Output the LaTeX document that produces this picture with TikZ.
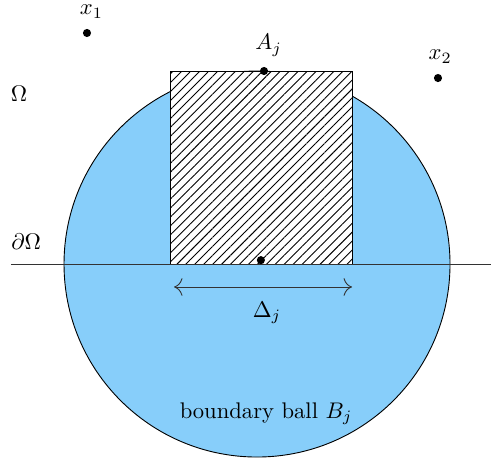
\documentclass[tikz,border=0pt]{standalone}
\usepackage{amsmath, amssymb}
\usepackage{xcolor}
\usepackage{tikz}
\usetikzlibrary{patterns.meta,arrows.meta}
\definecolor{ballblue}{RGB}{135, 206, 250}

\begin{document}
\begin{tikzpicture}
\useasboundingbox (-3.995,-3.031) rectangle (3.637,4.104);
\coordinate (O) at (0,0);
\fill[ballblue] (O) circle (3);
\draw (O) circle (3);
\fill[white] (-1.352,0) rectangle (1.477,3);
\draw[pattern={Lines[angle=45,distance=2.8pt,line width=0.4pt]}] (-1.352,0) rectangle (1.477,3);
\coordinate (L) at (-3.824,0);
\coordinate (R) at (3.637,0);
\draw[black!80] (L) -- (R);
\coordinate (A) at (0.109,3);
\coordinate (P) at (0.06,0.06);
\coordinate (X1) at (-2.643,3.591);
\coordinate (X2) at (2.813,2.891);
\fill (A) circle (1.8pt) node[above=3pt,xshift=2pt]{$A_j$};
\fill (P) circle (1.8pt);
\fill (X1) circle (1.8pt) node[above=3pt,xshift=2pt]{$x_1$};
\fill (X2) circle (1.8pt) node[above=3pt,xshift=1pt]{$x_2$};
\node (omega) at (-3.70,2.64) {$\Omega$};
\node (bdry) at (-3.59,0.342) {$\partial\Omega$};
\coordinate (D1) at (-1.290,-0.357);
\coordinate (D2) at (1.477,-0.357);
\draw[{To[scale=1.5]}-{To[scale=1.5]},black!80] (D1) -- (D2);
\node (delta) at (0.155,-0.762) {$\Delta_j$};
\node (ball) at (0.14,-2.331) {boundary ball $B_j$};
\end{tikzpicture}
\end{document}
